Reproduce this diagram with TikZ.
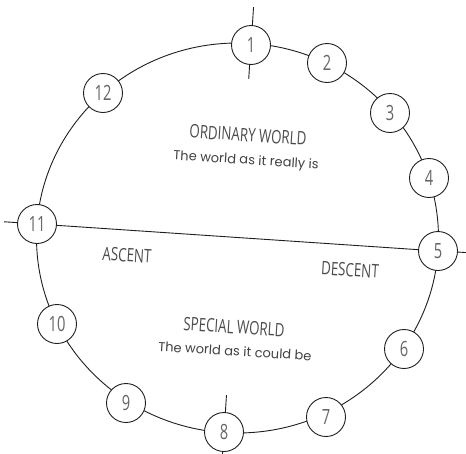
\documentclass[tikz,border=0pt]{standalone}
\usepackage{fontspec}
\newfontfamily\headfont[FakeStretch=0.72]{Open Sans}
\newfontfamily\digitfont[FakeStretch=0.7]{Open Sans}
\newfontfamily\subfont{Poppins}
\usetikzlibrary{calc}
\begin{document}
\begin{tikzpicture}[x=1pt,y=-1pt,
  line/.style={draw=black!88,line width=0.9pt},
  stage/.style={circle,draw=black!88,fill=white,line width=0.9pt,minimum size=39pt,inner sep=0pt,
    font=\digitfont\fontsize{21}{21}\selectfont,text=black!60},
  head/.style={font=\headfont\fontsize{18.5}{18.5}\selectfont,text=black!70,rotate=-3.6,inner sep=0pt},
  sub/.style={font=\subfont\fontsize{13}{13}\selectfont,text=black!75,rotate=-3.6,inner sep=0pt}]
\useasboundingbox (0,0) rectangle (466,453);
\draw[line] (237.5,238) ellipse [x radius=201pt, y radius=195pt];
\node[stage] (n1) at (251,45) {1};
\node[stage] (n2) at (327,63) {2};
\node[stage] (n3) at (390,113) {3};
\node[stage] (n4) at (429,178) {4};
\node[stage] (n5) at (438,251) {5};
\node[stage] (n6) at (404,349) {6};
\node[stage] (n7) at (326,417) {7};
\node[stage] (n8) at (224,432) {8};
\node[stage] (n9) at (126,403) {9};
\node[stage] (n10) at (57,324) {10};
\node[stage] (n11) at (37,224) {11};
\node[stage] (n12) at (103,93) {12};
\draw[line] (n11) -- (n5);
\draw[line] (n1.86.4) -- ++(86.4:18pt);
\draw[line] (n1.266.4) -- ++(266.4:14pt);
\draw[line] (n8.86.4) -- ++(86.4:17pt);
\draw[line] (n8.266.4) -- ++(266.4:17pt);
\draw[line] (n11.176.4) -- ++(176.4:13pt);
\draw[line] (n5.-3.6) -- ++(-3.6:15pt);
\node[head] (ord) at (248,135) {ORDINARY WORLD};
\node[sub] (ordsub) at (246,161) {The world as it really is};
\node[head] (asc) at (127,255) {ASCENT};
\node[head] (desc) at (350,270) {DESCENT};
\node[head] (spec) at (234,327) {SPECIAL WORLD};
\node[sub] (specsub) at (235,351) {The world as it could be};
\end{tikzpicture}
\end{document}
